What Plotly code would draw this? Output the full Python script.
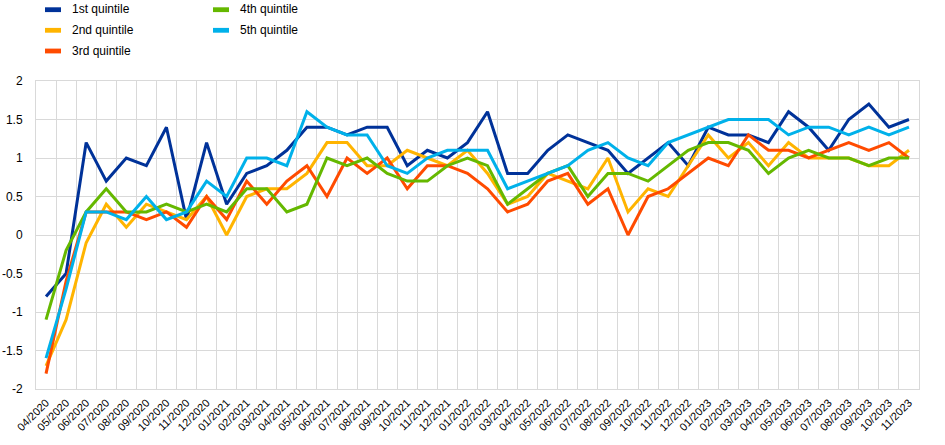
import plotly.graph_objects as go

months = [
    "04/2020", "05/2020", "06/2020", "07/2020", "08/2020", "09/2020", "10/2020", "11/2020", "12/2020",
    "01/2021", "02/2021", "03/2021", "04/2021", "05/2021", "06/2021", "07/2021", "08/2021", "09/2021",
    "10/2021", "11/2021", "12/2021",
    "01/2022", "02/2022", "03/2022", "04/2022", "05/2022", "06/2022", "07/2022", "08/2022", "09/2022",
    "10/2022", "11/2022", "12/2022",
    "01/2023", "02/2023", "03/2023", "04/2023", "05/2023", "06/2023", "07/2023", "08/2023", "09/2023",
    "10/2023", "11/2023",
]

q1 = [-0.8, -0.5, 1.2, 0.7, 1.0, 0.9, 1.4, 0.2, 1.2, 0.4,
      0.8, 0.9, 1.1, 1.4, 1.4, 1.3, 1.4, 1.4, 0.9, 1.1,
      1.0, 1.2, 1.6, 0.8, 0.8, 1.1, 1.3, 1.2, 1.1, 0.8,
      1.0, 1.2, 0.9, 1.4, 1.3, 1.3, 1.2, 1.6, 1.4, 1.1,
      1.5, 1.7, 1.4, 1.5]
q2 = [-1.7, -1.1, -0.1, 0.4, 0.1, 0.4, 0.3, 0.2, 0.5, 0.0,
      0.5, 0.6, 0.6, 0.8, 1.2, 1.2, 0.9, 0.9, 1.1, 1.0,
      0.9, 1.1, 0.8, 0.4, 0.5, 0.8, 0.7, 0.6, 1.0, 0.3,
      0.6, 0.5, 0.9, 1.3, 1.0, 1.2, 0.9, 1.2, 1.0, 1.0,
      1.0, 0.9, 0.9, 1.1]
q3 = [-1.8, -0.6, 0.3, 0.3, 0.3, 0.2, 0.3, 0.1, 0.5, 0.2,
      0.7, 0.4, 0.7, 0.9, 0.5, 1.0, 0.8, 1.0, 0.6, 0.9,
      0.9, 0.8, 0.6, 0.3, 0.4, 0.7, 0.8, 0.4, 0.6, 0.0,
      0.5, 0.6, 0.8, 1.0, 0.9, 1.3, 1.1, 1.1, 1.0, 1.1,
      1.2, 1.1, 1.2, 1.0]
q4 = [-1.1, -0.2, 0.3, 0.6, 0.3, 0.3, 0.4, 0.3, 0.4, 0.3,
      0.6, 0.6, 0.3, 0.4, 1.0, 0.9, 1.0, 0.8, 0.7, 0.7,
      0.9, 1.0, 0.9, 0.4, 0.6, 0.8, 0.9, 0.5, 0.8, 0.8,
      0.7, 0.9, 1.1, 1.2, 1.2, 1.1, 0.8, 1.0, 1.1, 1.0,
      1.0, 0.9, 1.0, 1.0]
q5 = [-1.6, -0.7, 0.3, 0.3, 0.2, 0.5, 0.2, 0.3, 0.7, 0.5,
      1.0, 1.0, 0.9, 1.6, 1.4, 1.3, 1.3, 0.9, 0.8, 1.0,
      1.1, 1.1, 1.1, 0.6, 0.7, 0.8, 0.9, 1.1, 1.2, 1.0,
      0.9, 1.2, 1.3, 1.4, 1.5, 1.5, 1.5, 1.3, 1.4, 1.4,
      1.3, 1.4, 1.3, 1.4]

series_names = ["1st quintile", "2nd quintile", "3rd quintile", "4th quintile", "5th quintile"]
series_values = [q1, q2, q3, q4, q5]
colors = ["#003299", "#FFB400", "#FF4B00", "#65B800", "#00B1EA"]

y_tickvals = [-2, -1.5, -1, -0.5, 0, 0.5, 1, 1.5, 2]
y_ticktext = ["-2", "-1.5", "-1", "-0.5", "0", "0.5", "1", "1.5", "2"]

W, H = 945, 445
ML, MR, MT, MB = 36, 26, 81, 56
PW = W - ML - MR
PH = H - MT - MB

FONT = "Arial, Liberation Sans, sans-serif"

fig = go.Figure()
for name, vals, col in zip(series_names, series_values, colors):
    fig.add_trace(go.Scatter(
        x=months, y=vals, name=name, mode="lines",
        line=dict(color=col, width=3), showlegend=False,
    ))

def px_x(px):
    return (px - ML) / PW

def px_y(py):
    return (H - MB - py) / PH

# manual two-column legend (positions in window pixels)
legend_pos = [
    (45, 9.7), (45, 30.3), (45, 51.0), (213, 9.7), (213, 30.3)
]
shapes = []
annotations = []
for (sx, sy), name, col in zip(legend_pos, series_names, colors):
    shapes.append(dict(
        type="rect", xref="paper", yref="paper",
        x0=px_x(sx), x1=px_x(sx + 16), y0=px_y(sy + 2.4), y1=px_y(sy - 2.4),
        fillcolor=col, line=dict(width=0),
    ))
    annotations.append(dict(
        xref="paper", yref="paper", x=px_x(sx + 25), y=px_y(sy - 0.5),
        xanchor="left", yanchor="middle", text=name, showarrow=False,
        font=dict(family=FONT, size=12, color="#000000"),
    ))

fig.update_layout(
    width=W, height=H,
    margin=dict(l=ML, r=MR, t=MT, b=MB, autoexpand=False),
    paper_bgcolor="white", plot_bgcolor="white",
    font=dict(family=FONT, size=12, color="#000000"),
    shapes=shapes, annotations=annotations,
    showlegend=False,
)
fig.update_xaxes(
    type="category", range=[-0.5, len(months) - 0.5],
    tickson="boundaries", showgrid=True, gridcolor="#D9D9D9", gridwidth=1,
    ticks="", tickangle=-45, ticklabelstandoff=2,
    tickfont=dict(family=FONT, size=11, color="#000000"),
    showline=True, linecolor="#D9D9D9", linewidth=1, mirror=True,
    zeroline=False, fixedrange=True,
)
fig.update_yaxes(
    range=[-2, 2], tickvals=y_tickvals, ticktext=y_ticktext,
    showgrid=True, gridcolor="#D9D9D9", gridwidth=1,
    ticks="", ticklabelstandoff=10, tickfont=dict(family=FONT, size=12, color="#000000"),
    showline=True, linecolor="#D9D9D9", linewidth=1, mirror=True,
    zeroline=False, fixedrange=True,
)

fig.write_html(
    "out.html",
    config={"displayModeBar": False},
    post_script="document.body.style.margin='0';document.body.style.overflow='hidden';",
)
